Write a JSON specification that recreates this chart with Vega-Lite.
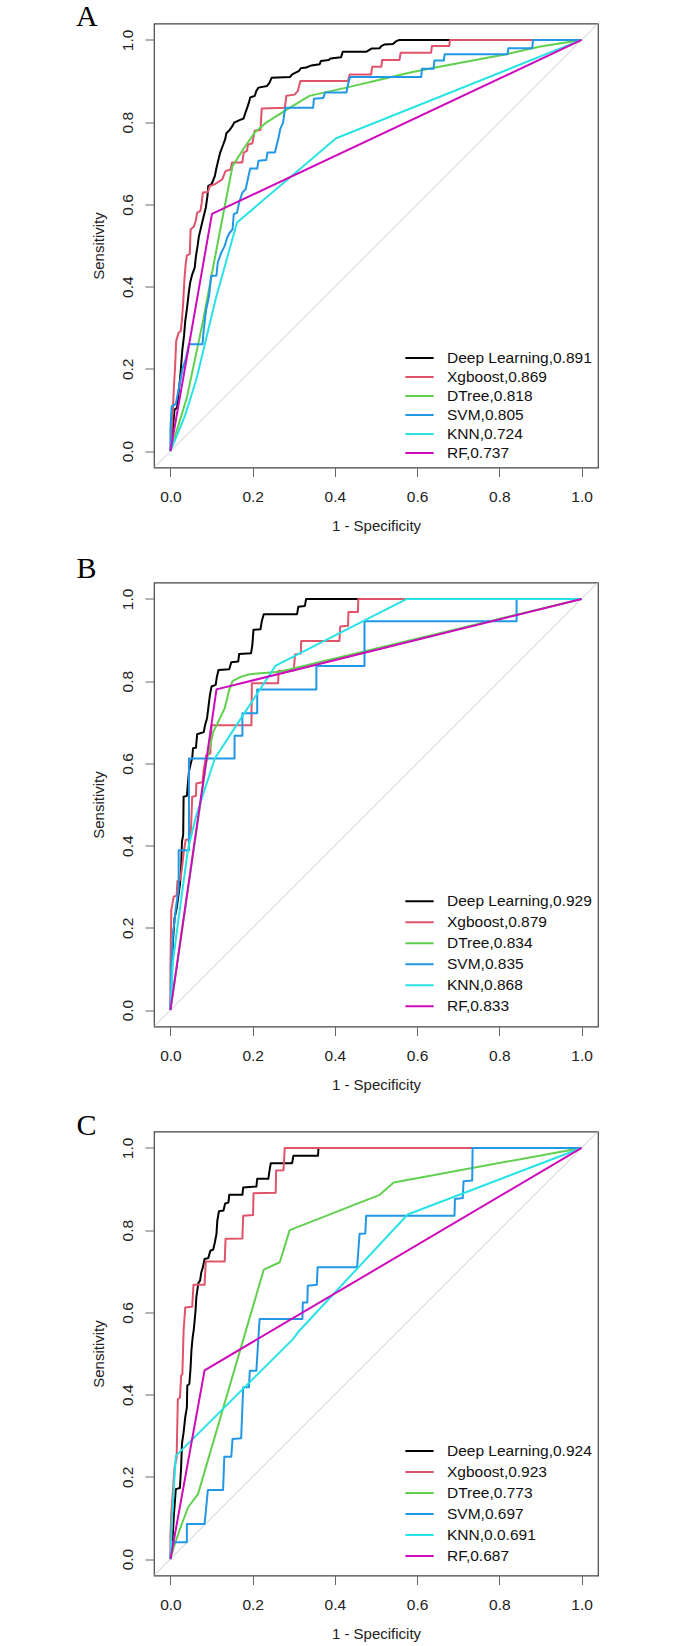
{
"$schema": "https://vega.github.io/schema/vega-lite/v6.json",
"background": "white",
"padding": {"left": 75, "top": 0.5, "right": 5, "bottom": 5},
"autosize": {"type": "pad"},
"bounds": "flush",
"spacing": 0,
"config": {
  "view": {"stroke": "#444", "strokeWidth": 1.2},
  "font": "Liberation Sans",
  "axis": {"domain": false, "grid": false, "tickColor": "#666", "tickSize": 9, "tickWidth": 1, "labelFont": "Liberation Sans", "labelFontSize": 15.5, "labelColor": "#222", "titleFont": "Liberation Sans", "titleFontSize": 15, "titleFontWeight": "normal", "titleColor": "#222", "labelFlush": false, "labelOverlap": false},
  "axisX": {"labelPadding": 13, "titleY": 63, "titleBaseline": "alphabetic", "titleAlign": "center", "titleX": 222},
  "axisY": {"labelAngle": 270, "labelAlign": "center", "labelBaseline": "bottom", "labelPadding": 10, "titleX": -51, "titleY": 222, "titleAngle": 270, "titleBaseline": "alphabetic", "titleAlign": "center"},
  "legend": {"orient": "none", "title": null, "symbolType": "stroke", "symbolSize": 800, "symbolStrokeWidth": 2, "labelFont": "Liberation Sans", "labelFontSize": 15.5, "labelColor": "#111", "labelOffset": 12, "rowPadding": 0, "padding": 0, "labelLimit": 0}
},
"resolve": {"scale": {"color": "independent"}, "legend": {"color": "independent"}},
"datasets": {
"A": [
{"m":"Deep Learning","i":0,"x":0,"y":0},
{"m":"Deep Learning","i":1,"x":0.005,"y":0.045},
{"m":"Deep Learning","i":2,"x":0.010,"y":0.101},
{"m":"Deep Learning","i":3,"x":0.016,"y":0.105},
{"m":"Deep Learning","i":4,"x":0.019,"y":0.134},
{"m":"Deep Learning","i":5,"x":0.024,"y":0.182},
{"m":"Deep Learning","i":6,"x":0.029,"y":0.247},
{"m":"Deep Learning","i":7,"x":0.033,"y":0.280},
{"m":"Deep Learning","i":8,"x":0.036,"y":0.316},
{"m":"Deep Learning","i":9,"x":0.040,"y":0.345},
{"m":"Deep Learning","i":10,"x":0.045,"y":0.389},
{"m":"Deep Learning","i":11,"x":0.048,"y":0.410},
{"m":"Deep Learning","i":12,"x":0.053,"y":0.430},
{"m":"Deep Learning","i":13,"x":0.059,"y":0.446},
{"m":"Deep Learning","i":14,"x":0.062,"y":0.474},
{"m":"Deep Learning","i":15,"x":0.066,"y":0.499},
{"m":"Deep Learning","i":16,"x":0.069,"y":0.521},
{"m":"Deep Learning","i":17,"x":0.075,"y":0.547},
{"m":"Deep Learning","i":18,"x":0.081,"y":0.572},
{"m":"Deep Learning","i":19,"x":0.086,"y":0.592},
{"m":"Deep Learning","i":20,"x":0.090,"y":0.620},
{"m":"Deep Learning","i":21,"x":0.092,"y":0.645},
{"m":"Deep Learning","i":22,"x":0.100,"y":0.649},
{"m":"Deep Learning","i":23,"x":0.108,"y":0.669},
{"m":"Deep Learning","i":24,"x":0.112,"y":0.689},
{"m":"Deep Learning","i":25,"x":0.117,"y":0.710},
{"m":"Deep Learning","i":26,"x":0.121,"y":0.726},
{"m":"Deep Learning","i":27,"x":0.127,"y":0.742},
{"m":"Deep Learning","i":28,"x":0.133,"y":0.758},
{"m":"Deep Learning","i":29,"x":0.136,"y":0.773},
{"m":"Deep Learning","i":30,"x":0.144,"y":0.781},
{"m":"Deep Learning","i":31,"x":0.151,"y":0.791},
{"m":"Deep Learning","i":32,"x":0.155,"y":0.799},
{"m":"Deep Learning","i":33,"x":0.168,"y":0.805},
{"m":"Deep Learning","i":34,"x":0.178,"y":0.809},
{"m":"Deep Learning","i":35,"x":0.182,"y":0.822},
{"m":"Deep Learning","i":36,"x":0.186,"y":0.833},
{"m":"Deep Learning","i":37,"x":0.191,"y":0.848},
{"m":"Deep Learning","i":38,"x":0.194,"y":0.860},
{"m":"Deep Learning","i":39,"x":0.205,"y":0.864},
{"m":"Deep Learning","i":40,"x":0.209,"y":0.876},
{"m":"Deep Learning","i":41,"x":0.214,"y":0.884},
{"m":"Deep Learning","i":42,"x":0.235,"y":0.888},
{"m":"Deep Learning","i":43,"x":0.241,"y":0.896},
{"m":"Deep Learning","i":44,"x":0.246,"y":0.908},
{"m":"Deep Learning","i":45,"x":0.291,"y":0.910},
{"m":"Deep Learning","i":46,"x":0.296,"y":0.916},
{"m":"Deep Learning","i":47,"x":0.313,"y":0.925},
{"m":"Deep Learning","i":48,"x":0.317,"y":0.931},
{"m":"Deep Learning","i":49,"x":0.330,"y":0.933},
{"m":"Deep Learning","i":50,"x":0.343,"y":0.938},
{"m":"Deep Learning","i":51,"x":0.363,"y":0.941},
{"m":"Deep Learning","i":52,"x":0.366,"y":0.949},
{"m":"Deep Learning","i":53,"x":0.385,"y":0.951},
{"m":"Deep Learning","i":54,"x":0.389,"y":0.955},
{"m":"Deep Learning","i":55,"x":0.415,"y":0.958},
{"m":"Deep Learning","i":56,"x":0.419,"y":0.971},
{"m":"Deep Learning","i":57,"x":0.476,"y":0.971},
{"m":"Deep Learning","i":58,"x":0.489,"y":0.979},
{"m":"Deep Learning","i":59,"x":0.509,"y":0.980},
{"m":"Deep Learning","i":60,"x":0.513,"y":0.985},
{"m":"Deep Learning","i":61,"x":0.521,"y":0.989},
{"m":"Deep Learning","i":62,"x":0.541,"y":0.990},
{"m":"Deep Learning","i":63,"x":0.549,"y":0.997},
{"m":"Deep Learning","i":64,"x":0.557,"y":1.0},
{"m":"Deep Learning","i":65,"x":1,"y":1},
{"m":"Xgboost","i":0,"x":0,"y":0},
{"m":"Xgboost","i":1,"x":0.003,"y":0.053},
{"m":"Xgboost","i":2,"x":0.006,"y":0.101},
{"m":"Xgboost","i":3,"x":0.009,"y":0.166},
{"m":"Xgboost","i":4,"x":0.011,"y":0.199},
{"m":"Xgboost","i":5,"x":0.014,"y":0.268},
{"m":"Xgboost","i":6,"x":0.020,"y":0.288},
{"m":"Xgboost","i":7,"x":0.025,"y":0.292},
{"m":"Xgboost","i":8,"x":0.028,"y":0.320},
{"m":"Xgboost","i":9,"x":0.031,"y":0.361},
{"m":"Xgboost","i":10,"x":0.034,"y":0.418},
{"m":"Xgboost","i":11,"x":0.037,"y":0.454},
{"m":"Xgboost","i":12,"x":0.040,"y":0.476},
{"m":"Xgboost","i":13,"x":0.047,"y":0.479},
{"m":"Xgboost","i":14,"x":0.049,"y":0.539},
{"m":"Xgboost","i":15,"x":0.057,"y":0.546},
{"m":"Xgboost","i":16,"x":0.062,"y":0.562},
{"m":"Xgboost","i":17,"x":0.065,"y":0.580},
{"m":"Xgboost","i":18,"x":0.073,"y":0.584},
{"m":"Xgboost","i":19,"x":0.076,"y":0.604},
{"m":"Xgboost","i":20,"x":0.079,"y":0.629},
{"m":"Xgboost","i":21,"x":0.091,"y":0.630},
{"m":"Xgboost","i":22,"x":0.096,"y":0.645},
{"m":"Xgboost","i":23,"x":0.108,"y":0.649},
{"m":"Xgboost","i":24,"x":0.126,"y":0.661},
{"m":"Xgboost","i":25,"x":0.134,"y":0.681},
{"m":"Xgboost","i":26,"x":0.146,"y":0.685},
{"m":"Xgboost","i":27,"x":0.150,"y":0.702},
{"m":"Xgboost","i":28,"x":0.175,"y":0.702},
{"m":"Xgboost","i":29,"x":0.178,"y":0.726},
{"m":"Xgboost","i":30,"x":0.186,"y":0.730},
{"m":"Xgboost","i":31,"x":0.189,"y":0.746},
{"m":"Xgboost","i":32,"x":0.199,"y":0.748},
{"m":"Xgboost","i":33,"x":0.205,"y":0.779},
{"m":"Xgboost","i":34,"x":0.219,"y":0.781},
{"m":"Xgboost","i":35,"x":0.222,"y":0.833},
{"m":"Xgboost","i":36,"x":0.278,"y":0.835},
{"m":"Xgboost","i":37,"x":0.282,"y":0.864},
{"m":"Xgboost","i":38,"x":0.302,"y":0.867},
{"m":"Xgboost","i":39,"x":0.310,"y":0.876},
{"m":"Xgboost","i":40,"x":0.316,"y":0.900},
{"m":"Xgboost","i":41,"x":0.432,"y":0.900},
{"m":"Xgboost","i":42,"x":0.436,"y":0.916},
{"m":"Xgboost","i":43,"x":0.488,"y":0.916},
{"m":"Xgboost","i":44,"x":0.491,"y":0.935},
{"m":"Xgboost","i":45,"x":0.513,"y":0.935},
{"m":"Xgboost","i":46,"x":0.515,"y":0.951},
{"m":"Xgboost","i":47,"x":0.557,"y":0.951},
{"m":"Xgboost","i":48,"x":0.560,"y":0.969},
{"m":"Xgboost","i":49,"x":0.634,"y":0.969},
{"m":"Xgboost","i":50,"x":0.636,"y":0.985},
{"m":"Xgboost","i":51,"x":0.678,"y":0.985},
{"m":"Xgboost","i":52,"x":0.680,"y":1.0},
{"m":"Xgboost","i":53,"x":1,"y":1},
{"m":"DTree","i":0,"x":0,"y":0},
{"m":"DTree","i":1,"x":0.04,"y":0.13},
{"m":"DTree","i":2,"x":0.08,"y":0.32},
{"m":"DTree","i":3,"x":0.11,"y":0.48},
{"m":"DTree","i":4,"x":0.131,"y":0.59},
{"m":"DTree","i":5,"x":0.151,"y":0.693},
{"m":"DTree","i":6,"x":0.177,"y":0.734},
{"m":"DTree","i":7,"x":0.205,"y":0.775},
{"m":"DTree","i":8,"x":0.233,"y":0.799},
{"m":"DTree","i":9,"x":0.282,"y":0.830},
{"m":"DTree","i":10,"x":0.338,"y":0.864},
{"m":"DTree","i":11,"x":0.428,"y":0.884},
{"m":"DTree","i":12,"x":0.509,"y":0.903},
{"m":"DTree","i":13,"x":0.589,"y":0.922},
{"m":"DTree","i":14,"x":0.670,"y":0.938},
{"m":"DTree","i":15,"x":0.82,"y":0.966},
{"m":"DTree","i":16,"x":0.9,"y":0.984},
{"m":"DTree","i":17,"x":1,"y":1},
{"m":"SVM","i":0,"x":0,"y":0},
{"m":"SVM","i":1,"x":0,"y":0.053},
{"m":"SVM","i":2,"x":0.003,"y":0.109},
{"m":"SVM","i":3,"x":0.013,"y":0.114},
{"m":"SVM","i":4,"x":0.016,"y":0.130},
{"m":"SVM","i":5,"x":0.023,"y":0.166},
{"m":"SVM","i":6,"x":0.029,"y":0.199},
{"m":"SVM","i":7,"x":0.037,"y":0.223},
{"m":"SVM","i":8,"x":0.045,"y":0.260},
{"m":"SVM","i":9,"x":0.078,"y":0.260},
{"m":"SVM","i":10,"x":0.081,"y":0.296},
{"m":"SVM","i":11,"x":0.087,"y":0.345},
{"m":"SVM","i":12,"x":0.094,"y":0.377},
{"m":"SVM","i":13,"x":0.099,"y":0.426},
{"m":"SVM","i":14,"x":0.112,"y":0.427},
{"m":"SVM","i":15,"x":0.115,"y":0.458},
{"m":"SVM","i":16,"x":0.123,"y":0.481},
{"m":"SVM","i":17,"x":0.132,"y":0.499},
{"m":"SVM","i":18,"x":0.138,"y":0.519},
{"m":"SVM","i":19,"x":0.144,"y":0.531},
{"m":"SVM","i":20,"x":0.151,"y":0.539},
{"m":"SVM","i":21,"x":0.154,"y":0.576},
{"m":"SVM","i":22,"x":0.162,"y":0.580},
{"m":"SVM","i":23,"x":0.167,"y":0.604},
{"m":"SVM","i":24,"x":0.175,"y":0.629},
{"m":"SVM","i":25,"x":0.183,"y":0.637},
{"m":"SVM","i":26,"x":0.189,"y":0.665},
{"m":"SVM","i":27,"x":0.194,"y":0.687},
{"m":"SVM","i":28,"x":0.211,"y":0.687},
{"m":"SVM","i":29,"x":0.214,"y":0.706},
{"m":"SVM","i":30,"x":0.233,"y":0.708},
{"m":"SVM","i":31,"x":0.236,"y":0.726},
{"m":"SVM","i":32,"x":0.254,"y":0.726},
{"m":"SVM","i":33,"x":0.259,"y":0.746},
{"m":"SVM","i":34,"x":0.263,"y":0.762},
{"m":"SVM","i":35,"x":0.267,"y":0.783},
{"m":"SVM","i":36,"x":0.274,"y":0.799},
{"m":"SVM","i":37,"x":0.279,"y":0.835},
{"m":"SVM","i":38,"x":0.347,"y":0.835},
{"m":"SVM","i":39,"x":0.349,"y":0.857},
{"m":"SVM","i":40,"x":0.372,"y":0.859},
{"m":"SVM","i":41,"x":0.376,"y":0.872},
{"m":"SVM","i":42,"x":0.428,"y":0.872},
{"m":"SVM","i":43,"x":0.432,"y":0.892},
{"m":"SVM","i":44,"x":0.437,"y":0.910},
{"m":"SVM","i":45,"x":0.610,"y":0.910},
{"m":"SVM","i":46,"x":0.612,"y":0.930},
{"m":"SVM","i":47,"x":0.640,"y":0.930},
{"m":"SVM","i":48,"x":0.642,"y":0.950},
{"m":"SVM","i":49,"x":0.665,"y":0.950},
{"m":"SVM","i":50,"x":0.667,"y":0.965},
{"m":"SVM","i":51,"x":0.820,"y":0.965},
{"m":"SVM","i":52,"x":0.822,"y":0.980},
{"m":"SVM","i":53,"x":0.880,"y":0.980},
{"m":"SVM","i":54,"x":0.882,"y":1.0},
{"m":"SVM","i":55,"x":1,"y":1},
{"m":"KNN","i":0,"x":0,"y":0},
{"m":"KNN","i":1,"x":0.035,"y":0.085},
{"m":"KNN","i":2,"x":0.063,"y":0.174},
{"m":"KNN","i":3,"x":0.11,"y":0.37},
{"m":"KNN","i":4,"x":0.162,"y":0.556},
{"m":"KNN","i":5,"x":0.403,"y":0.761},
{"m":"KNN","i":6,"x":1,"y":1},
{"m":"RF","i":0,"x":0,"y":0},
{"m":"RF","i":1,"x":0.101,"y":0.577},
{"m":"RF","i":2,"x":1,"y":1}
],
"B": [
{"m":"Deep Learning","i":0,"x":0,"y":0},
{"m":"Deep Learning","i":1,"x":0.003,"y":0.085},
{"m":"Deep Learning","i":2,"x":0.006,"y":0.166},
{"m":"Deep Learning","i":3,"x":0.010,"y":0.223},
{"m":"Deep Learning","i":4,"x":0.015,"y":0.247},
{"m":"Deep Learning","i":5,"x":0.023,"y":0.304},
{"m":"Deep Learning","i":6,"x":0.026,"y":0.345},
{"m":"Deep Learning","i":7,"x":0.028,"y":0.410},
{"m":"Deep Learning","i":8,"x":0.031,"y":0.426},
{"m":"Deep Learning","i":9,"x":0.032,"y":0.519},
{"m":"Deep Learning","i":10,"x":0.040,"y":0.521},
{"m":"Deep Learning","i":11,"x":0.045,"y":0.580},
{"m":"Deep Learning","i":12,"x":0.049,"y":0.598},
{"m":"Deep Learning","i":13,"x":0.053,"y":0.614},
{"m":"Deep Learning","i":14,"x":0.055,"y":0.637},
{"m":"Deep Learning","i":15,"x":0.062,"y":0.638},
{"m":"Deep Learning","i":16,"x":0.065,"y":0.671},
{"m":"Deep Learning","i":17,"x":0.081,"y":0.676},
{"m":"Deep Learning","i":18,"x":0.084,"y":0.692},
{"m":"Deep Learning","i":19,"x":0.089,"y":0.710},
{"m":"Deep Learning","i":20,"x":0.092,"y":0.734},
{"m":"Deep Learning","i":21,"x":0.096,"y":0.766},
{"m":"Deep Learning","i":22,"x":0.100,"y":0.787},
{"m":"Deep Learning","i":23,"x":0.110,"y":0.791},
{"m":"Deep Learning","i":24,"x":0.113,"y":0.811},
{"m":"Deep Learning","i":25,"x":0.117,"y":0.827},
{"m":"Deep Learning","i":26,"x":0.143,"y":0.829},
{"m":"Deep Learning","i":27,"x":0.148,"y":0.846},
{"m":"Deep Learning","i":28,"x":0.165,"y":0.848},
{"m":"Deep Learning","i":29,"x":0.167,"y":0.866},
{"m":"Deep Learning","i":30,"x":0.196,"y":0.868},
{"m":"Deep Learning","i":31,"x":0.199,"y":0.886},
{"m":"Deep Learning","i":32,"x":0.202,"y":0.925},
{"m":"Deep Learning","i":33,"x":0.219,"y":0.926},
{"m":"Deep Learning","i":34,"x":0.222,"y":0.945},
{"m":"Deep Learning","i":35,"x":0.227,"y":0.963},
{"m":"Deep Learning","i":36,"x":0.308,"y":0.963},
{"m":"Deep Learning","i":37,"x":0.311,"y":0.981},
{"m":"Deep Learning","i":38,"x":0.327,"y":0.983},
{"m":"Deep Learning","i":39,"x":0.330,"y":1.0},
{"m":"Deep Learning","i":40,"x":1,"y":1},
{"m":"Xgboost","i":0,"x":0,"y":0},
{"m":"Xgboost","i":1,"x":0,"y":0.101},
{"m":"Xgboost","i":2,"x":0.002,"y":0.243},
{"m":"Xgboost","i":3,"x":0.008,"y":0.276},
{"m":"Xgboost","i":4,"x":0.015,"y":0.278},
{"m":"Xgboost","i":5,"x":0.017,"y":0.314},
{"m":"Xgboost","i":6,"x":0.024,"y":0.316},
{"m":"Xgboost","i":7,"x":0.028,"y":0.345},
{"m":"Xgboost","i":8,"x":0.032,"y":0.381},
{"m":"Xgboost","i":9,"x":0.037,"y":0.414},
{"m":"Xgboost","i":10,"x":0.047,"y":0.415},
{"m":"Xgboost","i":11,"x":0.050,"y":0.442},
{"m":"Xgboost","i":12,"x":0.053,"y":0.519},
{"m":"Xgboost","i":13,"x":0.062,"y":0.521},
{"m":"Xgboost","i":14,"x":0.063,"y":0.551},
{"m":"Xgboost","i":15,"x":0.078,"y":0.554},
{"m":"Xgboost","i":16,"x":0.081,"y":0.584},
{"m":"Xgboost","i":17,"x":0.087,"y":0.620},
{"m":"Xgboost","i":18,"x":0.097,"y":0.624},
{"m":"Xgboost","i":19,"x":0.100,"y":0.693},
{"m":"Xgboost","i":20,"x":0.197,"y":0.693},
{"m":"Xgboost","i":21,"x":0.198,"y":0.795},
{"m":"Xgboost","i":22,"x":0.262,"y":0.795},
{"m":"Xgboost","i":23,"x":0.263,"y":0.825},
{"m":"Xgboost","i":24,"x":0.300,"y":0.826},
{"m":"Xgboost","i":25,"x":0.303,"y":0.865},
{"m":"Xgboost","i":26,"x":0.317,"y":0.867},
{"m":"Xgboost","i":27,"x":0.318,"y":0.898},
{"m":"Xgboost","i":28,"x":0.411,"y":0.898},
{"m":"Xgboost","i":29,"x":0.413,"y":0.933},
{"m":"Xgboost","i":30,"x":0.432,"y":0.935},
{"m":"Xgboost","i":31,"x":0.433,"y":0.968},
{"m":"Xgboost","i":32,"x":0.456,"y":0.968},
{"m":"Xgboost","i":33,"x":0.457,"y":1.0},
{"m":"Xgboost","i":34,"x":1,"y":1},
{"m":"DTree","i":0,"x":0,"y":0},
{"m":"DTree","i":1,"x":0.087,"y":0.60},
{"m":"DTree","i":2,"x":0.104,"y":0.676},
{"m":"DTree","i":3,"x":0.132,"y":0.734},
{"m":"DTree","i":4,"x":0.143,"y":0.779},
{"m":"DTree","i":5,"x":0.151,"y":0.800},
{"m":"DTree","i":6,"x":0.172,"y":0.811},
{"m":"DTree","i":7,"x":0.193,"y":0.817},
{"m":"DTree","i":8,"x":0.266,"y":0.823},
{"m":"DTree","i":9,"x":1,"y":1},
{"m":"SVM","i":0,"x":0,"y":0},
{"m":"SVM","i":1,"x":0.002,"y":0.101},
{"m":"SVM","i":2,"x":0.006,"y":0.182},
{"m":"SVM","i":3,"x":0.013,"y":0.247},
{"m":"SVM","i":4,"x":0.020,"y":0.296},
{"m":"SVM","i":5,"x":0.020,"y":0.389},
{"m":"SVM","i":6,"x":0.045,"y":0.389},
{"m":"SVM","i":7,"x":0.045,"y":0.612},
{"m":"SVM","i":8,"x":0.156,"y":0.612},
{"m":"SVM","i":9,"x":0.156,"y":0.667},
{"m":"SVM","i":10,"x":0.175,"y":0.667},
{"m":"SVM","i":11,"x":0.175,"y":0.722},
{"m":"SVM","i":12,"x":0.211,"y":0.722},
{"m":"SVM","i":13,"x":0.211,"y":0.780},
{"m":"SVM","i":14,"x":0.355,"y":0.780},
{"m":"SVM","i":15,"x":0.355,"y":0.837},
{"m":"SVM","i":16,"x":0.472,"y":0.837},
{"m":"SVM","i":17,"x":0.472,"y":0.946},
{"m":"SVM","i":18,"x":0.842,"y":0.946},
{"m":"SVM","i":19,"x":0.842,"y":1.0},
{"m":"SVM","i":20,"x":1,"y":1},
{"m":"KNN","i":0,"x":0,"y":0},
{"m":"KNN","i":1,"x":0.006,"y":0.118},
{"m":"KNN","i":2,"x":0.023,"y":0.247},
{"m":"KNN","i":3,"x":0.043,"y":0.393},
{"m":"KNN","i":4,"x":0.063,"y":0.474},
{"m":"KNN","i":5,"x":0.108,"y":0.612},
{"m":"KNN","i":6,"x":0.177,"y":0.718},
{"m":"KNN","i":7,"x":0.256,"y":0.838},
{"m":"KNN","i":8,"x":0.575,"y":1.0},
{"m":"KNN","i":9,"x":1,"y":1},
{"m":"RF","i":0,"x":0,"y":0},
{"m":"RF","i":1,"x":0.112,"y":0.780},
{"m":"RF","i":2,"x":1,"y":1}
],
"C": [
{"m":"Deep Learning","i":0,"x":0,"y":0},
{"m":"Deep Learning","i":1,"x":0.005,"y":0.045},
{"m":"Deep Learning","i":2,"x":0.008,"y":0.101},
{"m":"Deep Learning","i":3,"x":0.013,"y":0.170},
{"m":"Deep Learning","i":4,"x":0.023,"y":0.173},
{"m":"Deep Learning","i":5,"x":0.026,"y":0.223},
{"m":"Deep Learning","i":6,"x":0.028,"y":0.280},
{"m":"Deep Learning","i":7,"x":0.032,"y":0.308},
{"m":"Deep Learning","i":8,"x":0.036,"y":0.345},
{"m":"Deep Learning","i":9,"x":0.040,"y":0.369},
{"m":"Deep Learning","i":10,"x":0.041,"y":0.422},
{"m":"Deep Learning","i":11,"x":0.046,"y":0.426},
{"m":"Deep Learning","i":12,"x":0.049,"y":0.466},
{"m":"Deep Learning","i":13,"x":0.051,"y":0.507},
{"m":"Deep Learning","i":14,"x":0.054,"y":0.539},
{"m":"Deep Learning","i":15,"x":0.057,"y":0.560},
{"m":"Deep Learning","i":16,"x":0.061,"y":0.604},
{"m":"Deep Learning","i":17,"x":0.063,"y":0.637},
{"m":"Deep Learning","i":18,"x":0.068,"y":0.672},
{"m":"Deep Learning","i":19,"x":0.072,"y":0.677},
{"m":"Deep Learning","i":20,"x":0.075,"y":0.697},
{"m":"Deep Learning","i":21,"x":0.079,"y":0.710},
{"m":"Deep Learning","i":22,"x":0.083,"y":0.730},
{"m":"Deep Learning","i":23,"x":0.092,"y":0.732},
{"m":"Deep Learning","i":24,"x":0.097,"y":0.750},
{"m":"Deep Learning","i":25,"x":0.104,"y":0.753},
{"m":"Deep Learning","i":26,"x":0.108,"y":0.770},
{"m":"Deep Learning","i":27,"x":0.112,"y":0.791},
{"m":"Deep Learning","i":28,"x":0.114,"y":0.823},
{"m":"Deep Learning","i":29,"x":0.118,"y":0.846},
{"m":"Deep Learning","i":30,"x":0.129,"y":0.848},
{"m":"Deep Learning","i":31,"x":0.133,"y":0.865},
{"m":"Deep Learning","i":32,"x":0.141,"y":0.867},
{"m":"Deep Learning","i":33,"x":0.143,"y":0.886},
{"m":"Deep Learning","i":34,"x":0.175,"y":0.886},
{"m":"Deep Learning","i":35,"x":0.177,"y":0.904},
{"m":"Deep Learning","i":36,"x":0.209,"y":0.906},
{"m":"Deep Learning","i":37,"x":0.211,"y":0.925},
{"m":"Deep Learning","i":38,"x":0.238,"y":0.925},
{"m":"Deep Learning","i":39,"x":0.241,"y":0.945},
{"m":"Deep Learning","i":40,"x":0.244,"y":0.963},
{"m":"Deep Learning","i":41,"x":0.296,"y":0.963},
{"m":"Deep Learning","i":42,"x":0.299,"y":0.981},
{"m":"Deep Learning","i":43,"x":0.359,"y":0.981},
{"m":"Deep Learning","i":44,"x":0.360,"y":1.0},
{"m":"Deep Learning","i":45,"x":1,"y":1},
{"m":"Xgboost","i":0,"x":0,"y":0},
{"m":"Xgboost","i":1,"x":0,"y":0.053},
{"m":"Xgboost","i":2,"x":0.002,"y":0.109},
{"m":"Xgboost","i":3,"x":0.006,"y":0.166},
{"m":"Xgboost","i":4,"x":0.010,"y":0.223},
{"m":"Xgboost","i":5,"x":0.015,"y":0.247},
{"m":"Xgboost","i":6,"x":0.018,"y":0.389},
{"m":"Xgboost","i":7,"x":0.023,"y":0.392},
{"m":"Xgboost","i":8,"x":0.026,"y":0.446},
{"m":"Xgboost","i":9,"x":0.029,"y":0.450},
{"m":"Xgboost","i":10,"x":0.032,"y":0.556},
{"m":"Xgboost","i":11,"x":0.036,"y":0.612},
{"m":"Xgboost","i":12,"x":0.053,"y":0.614},
{"m":"Xgboost","i":13,"x":0.056,"y":0.667},
{"m":"Xgboost","i":14,"x":0.083,"y":0.667},
{"m":"Xgboost","i":15,"x":0.086,"y":0.724},
{"m":"Xgboost","i":16,"x":0.132,"y":0.724},
{"m":"Xgboost","i":17,"x":0.134,"y":0.779},
{"m":"Xgboost","i":18,"x":0.175,"y":0.780},
{"m":"Xgboost","i":19,"x":0.177,"y":0.835},
{"m":"Xgboost","i":20,"x":0.201,"y":0.837},
{"m":"Xgboost","i":21,"x":0.202,"y":0.890},
{"m":"Xgboost","i":22,"x":0.256,"y":0.891},
{"m":"Xgboost","i":23,"x":0.257,"y":0.945},
{"m":"Xgboost","i":24,"x":0.275,"y":0.946},
{"m":"Xgboost","i":25,"x":0.278,"y":1.0},
{"m":"Xgboost","i":26,"x":1,"y":1},
{"m":"DTree","i":0,"x":0,"y":0},
{"m":"DTree","i":1,"x":0.008,"y":0.028},
{"m":"DTree","i":2,"x":0.023,"y":0.073},
{"m":"DTree","i":3,"x":0.043,"y":0.126},
{"m":"DTree","i":4,"x":0.067,"y":0.158},
{"m":"DTree","i":5,"x":0.227,"y":0.704},
{"m":"DTree","i":6,"x":0.266,"y":0.722},
{"m":"DTree","i":7,"x":0.290,"y":0.800},
{"m":"DTree","i":8,"x":0.509,"y":0.886},
{"m":"DTree","i":9,"x":0.543,"y":0.916},
{"m":"DTree","i":10,"x":1,"y":1},
{"m":"SVM","i":0,"x":0,"y":0},
{"m":"SVM","i":1,"x":0.002,"y":0.041},
{"m":"SVM","i":2,"x":0.040,"y":0.041},
{"m":"SVM","i":3,"x":0.040,"y":0.085},
{"m":"SVM","i":4,"x":0.083,"y":0.085},
{"m":"SVM","i":5,"x":0.087,"y":0.126},
{"m":"SVM","i":6,"x":0.091,"y":0.168},
{"m":"SVM","i":7,"x":0.128,"y":0.168},
{"m":"SVM","i":8,"x":0.131,"y":0.249},
{"m":"SVM","i":9,"x":0.148,"y":0.249},
{"m":"SVM","i":10,"x":0.151,"y":0.292},
{"m":"SVM","i":11,"x":0.172,"y":0.294},
{"m":"SVM","i":12,"x":0.177,"y":0.418},
{"m":"SVM","i":13,"x":0.191,"y":0.418},
{"m":"SVM","i":14,"x":0.193,"y":0.458},
{"m":"SVM","i":15,"x":0.209,"y":0.458},
{"m":"SVM","i":16,"x":0.214,"y":0.539},
{"m":"SVM","i":17,"x":0.217,"y":0.584},
{"m":"SVM","i":18,"x":0.321,"y":0.584},
{"m":"SVM","i":19,"x":0.322,"y":0.624},
{"m":"SVM","i":20,"x":0.333,"y":0.624},
{"m":"SVM","i":21,"x":0.334,"y":0.665},
{"m":"SVM","i":22,"x":0.356,"y":0.667},
{"m":"SVM","i":23,"x":0.358,"y":0.710},
{"m":"SVM","i":24,"x":0.454,"y":0.710},
{"m":"SVM","i":25,"x":0.457,"y":0.750},
{"m":"SVM","i":26,"x":0.460,"y":0.791},
{"m":"SVM","i":27,"x":0.474,"y":0.792},
{"m":"SVM","i":28,"x":0.476,"y":0.835},
{"m":"SVM","i":29,"x":0.691,"y":0.835},
{"m":"SVM","i":30,"x":0.692,"y":0.876},
{"m":"SVM","i":31,"x":0.711,"y":0.878},
{"m":"SVM","i":32,"x":0.713,"y":0.919},
{"m":"SVM","i":33,"x":0.734,"y":0.921},
{"m":"SVM","i":34,"x":0.735,"y":1.0},
{"m":"SVM","i":35,"x":1,"y":1},
{"m":"KNN","i":0,"x":0,"y":0},
{"m":"KNN","i":1,"x":0.004,"y":0.10},
{"m":"KNN","i":2,"x":0.013,"y":0.251},
{"m":"KNN","i":3,"x":0.298,"y":0.535},
{"m":"KNN","i":4,"x":0.314,"y":0.556},
{"m":"KNN","i":5,"x":0.577,"y":0.838},
{"m":"KNN","i":6,"x":1,"y":1},
{"m":"RF","i":0,"x":0,"y":0},
{"m":"RF","i":1,"x":0.083,"y":0.459},
{"m":"RF","i":2,"x":1,"y":1}
]
},
"vconcat": [
{
  "width": 444, "height": 444,
  "title": {"text": "A", "anchor": "start", "frame": "group", "orient": "top", "offset": 0, "dx": -78, "dy": 32.7, "baseline": "alphabetic", "font": "Liberation Serif", "fontSize": 30, "fontWeight": "normal", "color": "#000"},
  "layer": [
    {"data": {"values": [{}]}, "mark": {"type": "rule", "color": "#c8c8c8", "strokeWidth": 1},
     "encoding": {
       "x": {"datum": -0.04, "type": "quantitative", "scale": {"domain": [-0.04, 1.04], "nice": false, "zero": false}, "axis": {"values": [0, 0.2, 0.4, 0.6, 0.8, 1], "format": ".1f", "title": "1 - Specificity"}},
       "y": {"datum": -0.04, "type": "quantitative", "scale": {"domain": [-0.04, 1.04], "nice": false, "zero": false}, "axis": {"values": [0, 0.2, 0.4, 0.6, 0.8, 1], "format": ".1f", "title": "Sensitivity"}},
       "x2": {"datum": 1.04}, "y2": {"datum": 1.04}}},
    {"data": {"name": "A"}, "mark": {"type": "line", "strokeWidth": 2, "strokeJoin": "round"},
     "encoding": {
       "x": {"field": "x", "type": "quantitative"},
       "y": {"field": "y", "type": "quantitative"},
       "order": {"field": "i", "type": "quantitative"},
       "color": {"field": "m", "type": "nominal",
         "scale": {"domain": ["Deep Learning", "Xgboost", "DTree", "SVM", "KNN", "RF"], "range": ["#000000", "#DF536B", "#61D04F", "#2297E6", "#28E2E5", "#CD0BBC"]},
         "legend": {"legendX": 250, "legendY": 325.3, "clipHeight": 18.3,
           "labelExpr": "datum.label=='Deep Learning'?'Deep Learning,0.891':datum.label=='Xgboost'?'Xgboost,0.869':datum.label=='DTree'?'DTree,0.818':datum.label=='SVM'?'SVM,0.805':datum.label=='KNN'?'KNN,0.724':'RF,0.737'"}}}}
  ]
},
{"width": 444, "height": 115, "data": {"values": [{}]}, "mark": {"type": "point", "opacity": 0}, "view": {"stroke": null}},
{
  "width": 444, "height": 444,
  "title": {"text": "B", "anchor": "start", "frame": "group", "orient": "top", "offset": 0, "dx": -77.5, "dy": 26.1, "baseline": "alphabetic", "font": "Liberation Serif", "fontSize": 30, "fontWeight": "normal", "color": "#000"},
  "layer": [
    {"data": {"values": [{}]}, "mark": {"type": "rule", "color": "#c8c8c8", "strokeWidth": 1},
     "encoding": {
       "x": {"datum": -0.04, "type": "quantitative", "scale": {"domain": [-0.04, 1.04], "nice": false, "zero": false}, "axis": {"values": [0, 0.2, 0.4, 0.6, 0.8, 1], "format": ".1f", "title": "1 - Specificity"}},
       "y": {"datum": -0.04, "type": "quantitative", "scale": {"domain": [-0.04, 1.04], "nice": false, "zero": false}, "axis": {"values": [0, 0.2, 0.4, 0.6, 0.8, 1], "format": ".1f", "title": "Sensitivity"}},
       "x2": {"datum": 1.04}, "y2": {"datum": 1.04}}},
    {"data": {"name": "B"}, "mark": {"type": "line", "strokeWidth": 2, "strokeJoin": "round"},
     "encoding": {
       "x": {"field": "x", "type": "quantitative"},
       "y": {"field": "y", "type": "quantitative"},
       "order": {"field": "i", "type": "quantitative"},
       "color": {"field": "m", "type": "nominal",
         "scale": {"domain": ["Deep Learning", "Xgboost", "DTree", "SVM", "KNN", "RF"], "range": ["#000000", "#DF536B", "#61D04F", "#2297E6", "#28E2E5", "#CD0BBC"]},
         "legend": {"legendX": 250, "legendY": 308.3, "clipHeight": 20.8,
           "labelExpr": "datum.label=='Deep Learning'?'Deep Learning,0.929':datum.label=='Xgboost'?'Xgboost,0.879':datum.label=='DTree'?'DTree,0.834':datum.label=='SVM'?'SVM,0.835':datum.label=='KNN'?'KNN,0.868':'RF,0.833'"}}}}
  ]
},
{"width": 444, "height": 105, "data": {"values": [{}]}, "mark": {"type": "point", "opacity": 0}, "view": {"stroke": null}},
{
  "width": 444, "height": 444,
  "title": {"text": "C", "anchor": "start", "frame": "group", "orient": "top", "offset": 0, "dx": -77.5, "dy": 34, "baseline": "alphabetic", "font": "Liberation Serif", "fontSize": 30, "fontWeight": "normal", "color": "#000"},
  "layer": [
    {"data": {"values": [{}]}, "mark": {"type": "rule", "color": "#c8c8c8", "strokeWidth": 1},
     "encoding": {
       "x": {"datum": -0.04, "type": "quantitative", "scale": {"domain": [-0.04, 1.04], "nice": false, "zero": false}, "axis": {"values": [0, 0.2, 0.4, 0.6, 0.8, 1], "format": ".1f", "title": "1 - Specificity"}},
       "y": {"datum": -0.04, "type": "quantitative", "scale": {"domain": [-0.04, 1.04], "nice": false, "zero": false}, "axis": {"values": [0, 0.2, 0.4, 0.6, 0.8, 1], "format": ".1f", "title": "Sensitivity"}},
       "x2": {"datum": 1.04}, "y2": {"datum": 1.04}}},
    {"data": {"name": "C"}, "mark": {"type": "line", "strokeWidth": 2, "strokeJoin": "round"},
     "encoding": {
       "x": {"field": "x", "type": "quantitative"},
       "y": {"field": "y", "type": "quantitative"},
       "order": {"field": "i", "type": "quantitative"},
       "color": {"field": "m", "type": "nominal",
         "scale": {"domain": ["Deep Learning", "Xgboost", "DTree", "SVM", "KNN", "RF"], "range": ["#000000", "#DF536B", "#61D04F", "#2297E6", "#28E2E5", "#CD0BBC"]},
         "legend": {"legendX": 250, "legendY": 309, "clipHeight": 20.8,
           "labelExpr": "datum.label=='Deep Learning'?'Deep Learning,0.924':datum.label=='Xgboost'?'Xgboost,0.923':datum.label=='DTree'?'DTree,0.773':datum.label=='SVM'?'SVM,0.697':datum.label=='KNN'?'KNN,0.0.691':'RF,0.687'"}}}}
  ]
}
]
}
